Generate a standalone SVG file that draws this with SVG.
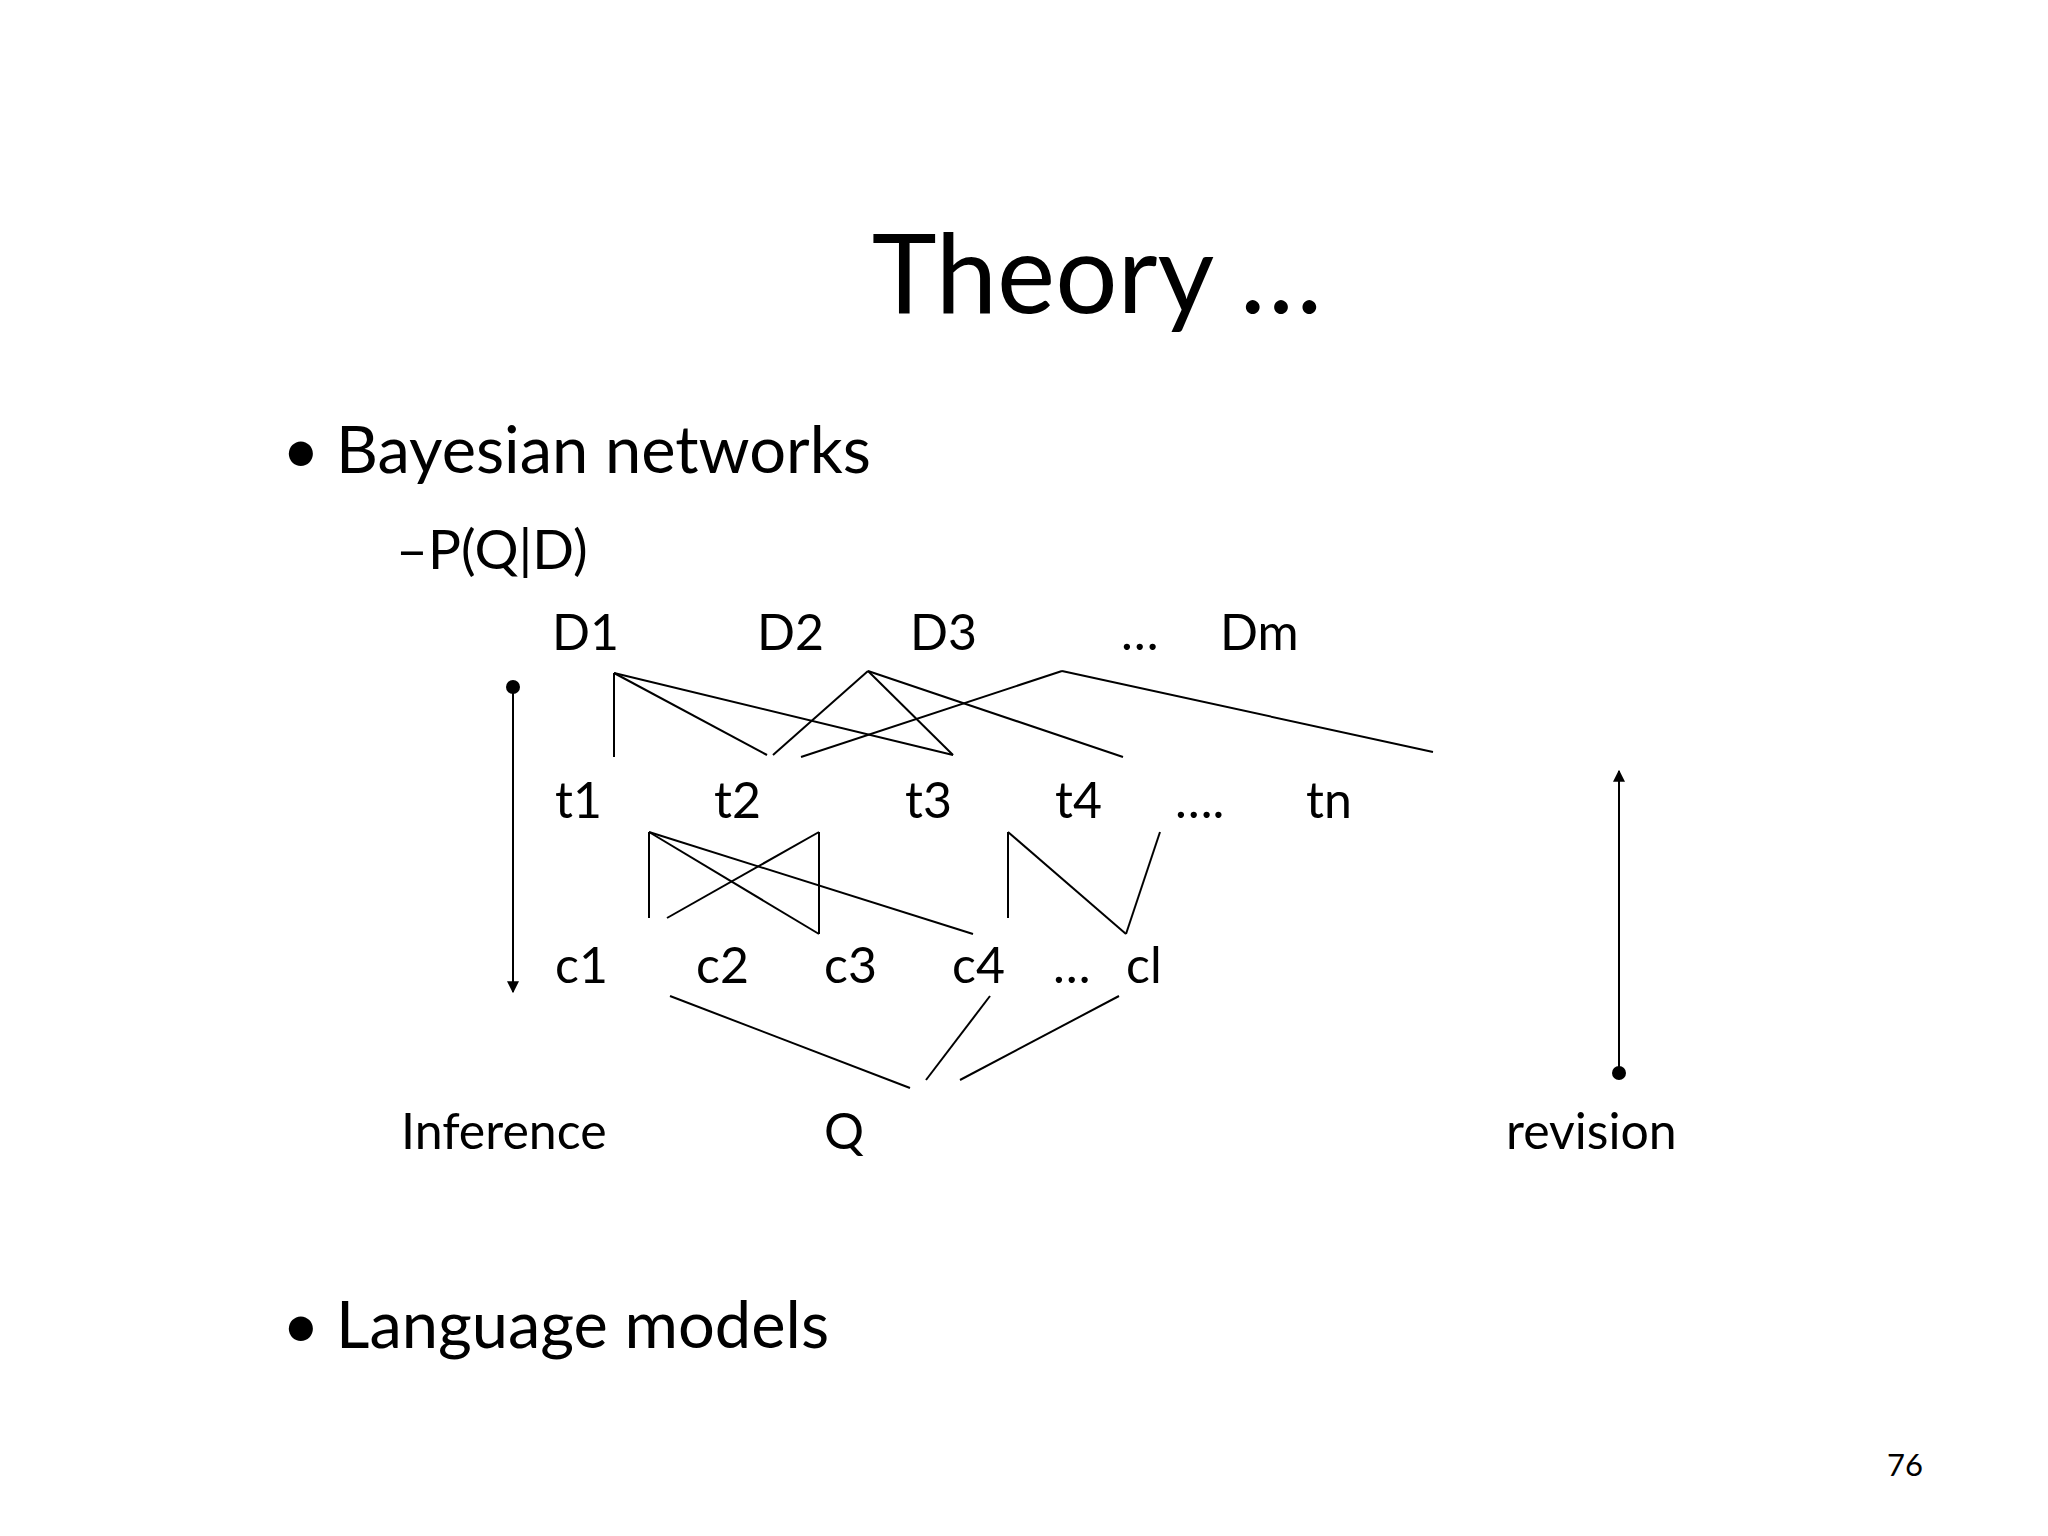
<svg xmlns="http://www.w3.org/2000/svg" width="2048" height="1536" viewBox="0 0 2048 1536">
<defs>
<style>
text{font-family:Lato,"Liberation Sans",sans-serif;fill:#000}
.n{font-size:50px}
line{stroke:#000;stroke-width:2}
</style>
<marker id="ah" viewBox="0 0 10 10" refX="9" refY="5" markerWidth="6" markerHeight="6" orient="auto"><path d="M0,0L10,5L0,10z" fill="#000"/></marker>
</defs>
<rect width="2048" height="1536" fill="#fff"/>
<text x="1097" y="313" font-size="110" text-anchor="middle">Theory …</text>
<text x="282" y="473" font-size="65">•</text>
<text x="336" y="473" font-size="65">Bayesian networks</text>
<text x="396" y="569" font-size="55">–P(Q|D)</text>
<g id="D1"><text class="n" x="552" y="650">D1</text></g>
<g id="D2"><text class="n" x="757" y="650">D2</text></g>
<g id="D3"><text class="n" x="910" y="650">D3</text></g>
<g id="Ddots"><text class="n" x="1121" y="650">…</text></g>
<g id="Dm"><text class="n" x="1220" y="650">Dm</text></g>
<g id="t1"><text class="n" x="555" y="818">t1</text></g>
<g id="t2"><text class="n" x="714" y="818">t2</text></g>
<g id="t3"><text class="n" x="905" y="818">t3</text></g>
<g id="t4"><text class="n" x="1055" y="818">t4</text></g>
<g id="tdots"><text class="n" x="1175" y="818">….</text></g>
<g id="tn"><text class="n" x="1306" y="818">tn</text></g>
<g id="c1"><text class="n" x="555" y="983">c1</text></g>
<g id="c2"><text class="n" x="696" y="983">c2</text></g>
<g id="c3"><text class="n" x="824" y="983">c3</text></g>
<g id="c4"><text class="n" x="952" y="983">c4</text></g>
<g id="cdots"><text class="n" x="1053" y="983">…</text></g>
<g id="cl"><text class="n" x="1126" y="983">cl</text></g>
<g id="inference"><text class="n" x="401" y="1149">Inference</text></g>
<g id="Q"><text class="n" x="824" y="1149">Q</text></g>
<g id="revision"><text class="n" x="1506" y="1149">revision</text></g>
<text x="282" y="1348" font-size="65">•</text>
<text x="336" y="1348" font-size="65">Language models</text>
<text x="1887" y="1476" font-size="31">76</text>
<g id="connectors">
<line x1="614" y1="673" x2="614" y2="757"/>
<line x1="614" y1="673" x2="767" y2="755"/>
<line x1="614" y1="673" x2="953" y2="755"/>
<line x1="868" y1="671" x2="773" y2="755"/>
<line x1="868" y1="671" x2="953" y2="755"/>
<line x1="868" y1="671" x2="1123" y2="757"/>
<line x1="1062" y1="671" x2="801" y2="757"/>
<line x1="1062" y1="671" x2="1433" y2="752"/>
<line x1="649" y1="832" x2="649" y2="918"/>
<line x1="649" y1="832" x2="819" y2="934"/>
<line x1="649" y1="832" x2="973" y2="934"/>
<line x1="819" y1="832" x2="819" y2="934"/>
<line x1="819" y1="832" x2="667" y2="918"/>
<line x1="1008" y1="832" x2="1008" y2="918"/>
<line x1="1008" y1="832" x2="1126" y2="934"/>
<line x1="1160" y1="832" x2="1126" y2="934"/>
<line x1="670" y1="996" x2="910" y2="1088"/>
<line x1="990" y1="996" x2="926" y2="1080"/>
<line x1="1119" y1="996" x2="960" y2="1080"/>
<circle cx="513" cy="687" r="7"/>
<line x1="513" y1="687" x2="513" y2="992" marker-end="url(#ah)"/>
<circle cx="1619" cy="1073" r="7"/>
<line x1="1619" y1="1073" x2="1619" y2="771" marker-end="url(#ah)"/>
</g>
</svg>
